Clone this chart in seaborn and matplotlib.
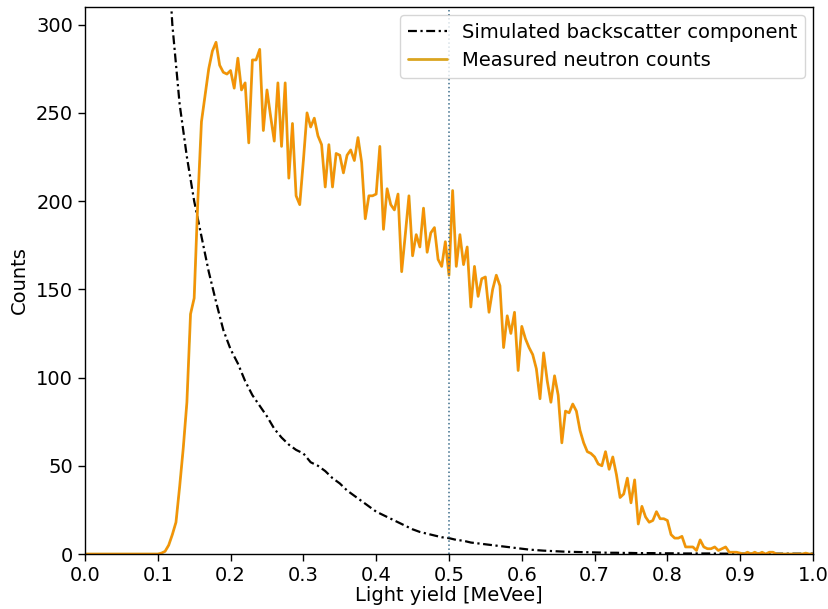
import numpy as np
import matplotlib
matplotlib.use("Agg")
import matplotlib.pyplot as plt
import seaborn as sns

# Measured neutron counts, one value per 0.005 MeVee bin (0.000 ... 1.000)
light_yield = np.round(np.arange(0, 201) * 0.005, 3)
measured_counts = [
    0, 0, 0, 0, 0, 0, 0, 0, 0, 0,
    0, 0, 0, 0, 0, 0, 0, 0, 0, 0,
    0, 0.5, 1.5, 5, 11, 18, 38, 60, 86, 136,
    145, 200, 245, 260, 275, 285, 290, 277, 273, 272,
    274, 264, 281, 263, 267, 233, 280, 280, 286, 240,
    263, 248, 234, 267, 231, 267, 213, 244, 203, 198,
    223, 250, 242, 247, 237, 232, 208, 232, 208, 227,
    226, 216, 226, 229, 223, 236, 222, 190, 203, 203,
    204, 231, 184, 207, 198, 195, 204, 160, 181, 203,
    169, 181, 174, 196, 171, 182, 185, 167, 163, 177,
    158, 206, 163, 181, 164, 174, 140, 163, 146, 156,
    157, 137, 150, 158, 152, 117, 135, 125, 137, 104,
    129, 122, 117, 113, 105, 88, 114, 98, 86, 101,
    90, 63, 81, 80, 85, 81, 70, 63, 58, 57,
    55, 51, 50, 58, 48, 55, 45, 32, 34, 43,
    29, 42, 17, 27, 21, 18, 19, 24, 20, 20,
    19, 11, 9, 9, 10, 4, 4, 4, 2, 8,
    4, 3, 3, 4, 2, 3, 4, 1, 1, 1,
    0.5, 0, 1, 0, 1, 0, 1, 0, 1, 1,
    0, 0, 0, 0, 0, 0, 0, 0, 0.5, 0,
    0,
]

# Simulated backscatter component, 0.01 MeVee steps from 0.10 to 1.00
sim_yield = np.round(np.arange(10, 101) * 0.01, 2)
sim_counts = [
    450, 370, 300, 255, 225, 200, 180, 160, 143, 127,
    116, 108, 98, 90, 84, 78, 71, 66, 62, 59,
    57, 52, 50, 47, 43, 40, 36, 33, 30, 27,
    24, 22, 20, 18, 16, 14, 12.5, 11.5, 10.5, 9.5,
    9, 8, 7.5, 6.5, 6, 5.5, 5, 4.5, 4, 3.5,
    3, 2.5, 2.2, 1.9, 1.7, 1.5, 1.3, 1.2, 1.1, 1.0,
    0.9, 0.8, 0.7, 0.7, 0.6, 0.6, 0.5, 0.5, 0.5, 0.4,
    0.4, 0.4, 0.3, 0.3, 0.3, 0.3, 0.3, 0.2, 0.2, 0.2,
    0.2, 0.2, 0.2, 0.2, 0.2, 0.2, 0.2, 0.2, 0.2, 0.2,
    0.2,
]

cut_position = 0.5

sns.set_style("ticks", {"axes.edgecolor": "black", "xtick.color": "black",
                        "ytick.color": "black", "text.color": "black",
                        "axes.labelcolor": "black"})
plt.rcParams["font.family"] = ["DejaVu Sans"]

fig, ax = plt.subplots(figsize=(8.29, 6.09), dpi=100)
fig.subplots_adjust(left=0.1025, right=0.9807, bottom=0.0903, top=0.9885)

sns.lineplot(x=sim_yield, y=sim_counts, ax=ax, color="black", linewidth=1.6,
             dashes=False, label="Simulated backscatter component")
ax.lines[-1].set_dashes([4, 1.6, 1, 1.6])
sns.lineplot(x=light_yield, y=measured_counts, ax=ax, color="goldenrod",
             linewidth=2.0, label="Measured neutron counts")
sns.lineplot(x=light_yield, y=measured_counts, ax=ax, color="darkorange",
             linewidth=1.0, legend=False)
ax.axvline(cut_position, color="#3d6e8c", linestyle=":", linewidth=1.1)

ax.set_xlim(0, 1.0)
ax.set_ylim(0, 310)
ax.set_xticks(np.round(np.arange(0, 11) * 0.1, 1))
ax.set_yticks([0, 50, 100, 150, 200, 250, 300])
ax.tick_params(labelsize=14, length=5, width=1)
ax.set_xlabel("Light yield [MeVee]", fontsize=14, labelpad=1)
ax.set_ylabel("Counts", fontsize=14, labelpad=5)
for side in ["top", "right", "left", "bottom"]:
    ax.spines[side].set_visible(True)
    ax.spines[side].set_linewidth(1.0)

ax.legend(loc="upper right", fontsize=14, frameon=True, handlelength=2.0,
          borderaxespad=0.4)

fig.savefig("out.png", dpi=100)
